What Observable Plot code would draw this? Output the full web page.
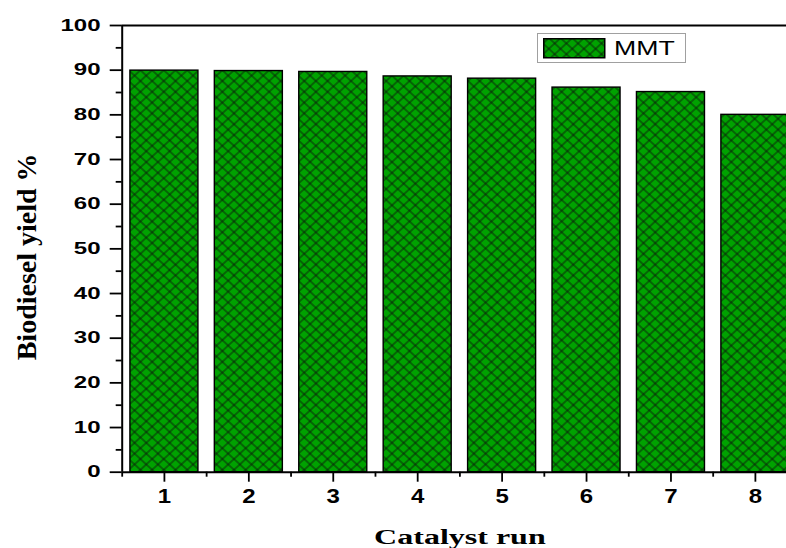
<!DOCTYPE html>
<html>
<head>
<meta charset="utf-8">
<script src="https://cdn.jsdelivr.net/npm/d3@7"></script>
<script src="https://cdn.jsdelivr.net/npm/@observablehq/plot@0.6"></script>
<style>
  body { margin: 0; background: #fff; overflow: hidden; }
  #wrap { position: relative; width: 786px; height: 548px; }
  .key {
    position: absolute; left: 537px; top: 33px; width: 149px; height: 30px;
    box-sizing: border-box; border: 1px solid #a0a0a0; background: #fff;
  }
  .key svg { position: absolute; left: 5px; top: 4px; }
  .key span {
    position: absolute; left: 76px; top: 3px; font: 21px/21px "Liberation Sans", Arial, sans-serif;
    display: inline-block; transform: scaleX(1.27); transform-origin: 0 0; color: #000;
  }
</style>
</head>
<body>
<div id="wrap"></div>
<script>
// Catalyst reuse: biodiesel yield per run
const runs = [1, 2, 3, 4, 5, 6, 7, 8];
const yields = [89.9, 89.8, 89.6, 88.6, 88.1, 86.1, 85.1, 80.0];
const seriesName = "MMT";
const xTitle = "Catalyst run";
const yTitle = "Biodiesel yield %";
const yMajorTicks = [0, 10, 20, 30, 40, 50, 60, 70, 80, 90, 100];
const yMinorTicks = [5, 15, 25, 35, 45, 55, 65, 75, 85, 95];
const xMinorTicks = [0.5, 1.5, 2.5, 3.5, 4.5, 5.5, 6.5, 7.5, 8.5];

const rows = runs.map((run, i) => ({run, yield: yields[i]}));
const xDomain = [0.5, 8.5];

const chart = Plot.plot({
  width: 786,
  height: 548,
  marginTop: 25,
  marginLeft: 121.7,
  marginRight: 0,
  marginBottom: 76.3,
  style: {background: "#fff", color: "#000", fontFamily: "'Liberation Sans', Arial, sans-serif", overflow: "hidden"},
  x: {type: "linear", domain: xDomain, range: [121.7, 797.1]},
  y: {domain: [0, 100], range: [471.7, 25]},
  marks: [
    Plot.rect(rows, {
      x1: d => d.run - 0.5, x2: d => d.run + 0.5, y1: 0, y2: "yield",
      insetLeft: 8.2, insetRight: 8.2,
      fill: "url(#hatch)", stroke: "#000", strokeWidth: 1.4
    }),
    Plot.ruleY([100], {stroke: "#000", strokeWidth: 2}),
    Plot.ruleY([0], {stroke: "#000", strokeWidth: 2}),
    Plot.ruleX([xDomain[0]], {stroke: "#000", strokeWidth: 2}),
    Plot.axisY({ticks: yMajorTicks, tickSize: 12, tickPadding: 9.7, tickFormat: d3.format("d"),
      fontSize: 16, fontWeight: "bold", strokeWidth: 1.8, label: null}),
    Plot.axisY({ticks: yMinorTicks, tickSize: 6, tickFormat: () => "", strokeWidth: 1.8, label: null}),
    Plot.axisX({ticks: runs, tickSize: 10, tickPadding: 6.6, tickFormat: d3.format("d"),
      fontSize: 20, fontWeight: "bold", strokeWidth: 1.8, label: null}),
    Plot.axisX({ticks: xMinorTicks, tickSize: 5, tickFormat: () => "", strokeWidth: 1.8, label: null}),
    Plot.text([xTitle], {
      x: d3.mean(xDomain), frameAnchor: "bottom", dy: 65.5, text: d => d,
      fontFamily: "'Liberation Serif', 'Times New Roman', serif", fontWeight: "bold", fontSize: 20,
      textAnchor: "middle", lineAnchor: "middle"
    }),
    Plot.text([yTitle], {
      y: 50, frameAnchor: "left", dx: -95.2, dy: 8, rotate: -90, text: d => d,
      fontFamily: "'Liberation Serif', 'Times New Roman', serif", fontWeight: "bold", fontSize: 28,
      textAnchor: "middle", lineAnchor: "middle"
    })
  ]
});

const wrap = document.getElementById("wrap");
wrap.append(chart);

// cross-hatched fill for the bars
const svg = d3.select(chart);
const defs = svg.insert("defs", ":first-child");
const s = 7.955;
const pat = defs.append("pattern")
  .attr("id", "hatch")
  .attr("patternUnits", "userSpaceOnUse")
  .attr("width", s).attr("height", s)
  .attr("patternTransform", "scale(1.04,0.96) rotate(45)");
pat.append("rect").attr("width", s).attr("height", s).attr("fill", "#00a200");
pat.append("path")
  .attr("d", `M${s / 2},-1V${s + 1}M-1,${s / 2}H${s + 1}`)
  .attr("stroke", "#0b1a0b").attr("stroke-width", 0.9).attr("fill", "none");

// widen glyphs horizontally
function widenText(t, k) {
  const L = t.getComputedTextLength();
  if (L > 0) {
    t.setAttribute("textLength", L * k);
    t.setAttribute("lengthAdjust", "spacingAndGlyphs");
  }
}
chart.querySelectorAll('g[aria-label="y-axis tick label"] text').forEach(t => widenText(t, 1.5));
chart.querySelectorAll('g[aria-label="x-axis tick label"] text').forEach(t => widenText(t, 1.2));
chart.querySelectorAll("text").forEach(t => { if (t.textContent === xTitle) widenText(t, 1.6); });

// legend
const key = document.createElement("div");
key.className = "key";
key.innerHTML = `<svg width="63" height="21"><rect x="0.75" y="0.75" width="61" height="19" fill="url(#hatch)" stroke="#000" stroke-width="1.5"/></svg>`;
const label = document.createElement("span");
label.textContent = seriesName;
key.append(label);
wrap.append(key);
</script>
</body>
</html>
